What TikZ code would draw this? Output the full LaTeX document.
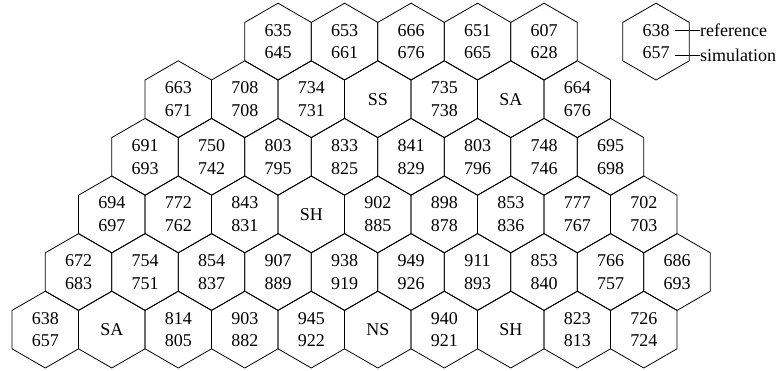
\documentclass[tikz,border=0pt]{standalone}
\usepackage{fontspec}
\setmainfont{Liberation Serif}
\usetikzlibrary{shapes.geometric}
\begin{document}
\begin{tikzpicture}[x=1pt,y=-1pt,
  hexcell/.style={draw,line width=0.8pt,regular polygon,regular polygon sides=6,
    shape border rotate=30,minimum size=76.8pt,inner sep=0pt,
    align=center,font=\fontsize{18}{22.7}\selectfont},
  legtext/.style={anchor=west,inner sep=0pt,font=\fontsize{18}{22}\selectfont},
  legline/.style={line width=0.8pt}]
\useasboundingbox (0,0) rectangle (781,370);
% row 5 (top)
\foreach \t [count=\k] in {635\\645,653\\661,666\\676,651\\665,607\\628}
  \node[hexcell] (r5-\k) at ({211.55+66.5*\k},41.6) {\t};
% row 4
\foreach \t [count=\k from 0] in {663\\671,708\\708,734\\731,SS,735\\738,SA,664\\676}
  \node[hexcell] (r4-\k) at ({178.3+66.5*\k},99.2) {\t};
% row 3
\foreach \t [count=\k from 0] in {691\\693,750\\742,803\\795,833\\825,841\\829,803\\796,748\\746,695\\698}
  \node[hexcell] (r3-\k) at ({145.05+66.5*\k},156.8) {\t};
% row 2
\foreach \t [count=\k from 0] in {694\\697,772\\762,843\\831,SH,902\\885,898\\878,853\\836,777\\767,702\\703}
  \node[hexcell] (r2-\k) at ({111.8+66.5*\k},214.4) {\t};
% row 1
\foreach \t [count=\k from 0] in {672\\683,754\\751,854\\837,907\\889,938\\919,949\\926,911\\893,853\\840,766\\757,686\\693}
  \node[hexcell] (r1-\k) at ({78.55+66.5*\k},272.0) {\t};
% row 0 (bottom)
\foreach \t [count=\k from 0] in {638\\657,SA,814\\805,903\\882,945\\922,NS,940\\921,SH,823\\813,726\\724}
  \node[hexcell] (r0-\k) at ({45.3+66.5*\k},329.6) {\t};
% legend
\node[hexcell] (leg) at (656,41.6) {638\\657};
\node[legtext] (lref) at (700,30) {reference};
\node[legtext] (lsim) at (700,55) {simulation};
\coordinate (lrefs) at (675,30);
\coordinate (lsims) at (675,55);
\draw[legline] (lrefs) -- (lref.west);
\draw[legline] (lsims) -- (lsim.west);
\end{tikzpicture}
\end{document}
